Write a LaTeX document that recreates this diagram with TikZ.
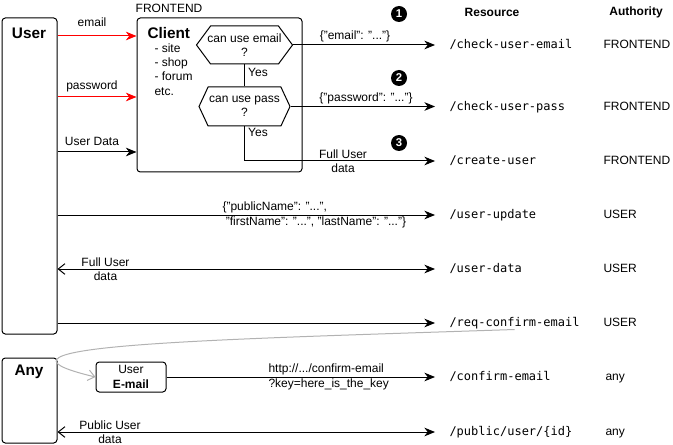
\documentclass[tikz,border=0pt]{standalone}
\usepackage{fontspec}
\setmainfont{Liberation Sans}
\setmonofont{DejaVu Sans Mono}
\usetikzlibrary{arrows.meta,shapes.symbols}

\tikzset{every picture/.style={line width=0.75pt}}
\tikzset{
  box/.style={draw, rounded corners=2.5pt, inner sep=0pt},
  hexa/.style={draw, signal, signal to=east and west, align=center, inner sep=0pt},
  flow/.style={-{Stealth[length=8pt,width=6.5pt,inset=2.5pt]}},
  toRes/.style={flow, shorten >=10.5pt},
  both/.style={{Straight Barb[length=5pt,width=8pt]}-{Stealth[length=8pt,width=6.5pt,inset=2.5pt]}, shorten >=10.5pt},
  res/.style={anchor=west, inner sep=0pt, text height=7pt, text depth=2pt, font=\ttfamily\fontsize{9}{10.8}\selectfont},
  auth/.style={anchor=west, inner sep=0pt, text height=7pt, text depth=2pt},
  head/.style={inner sep=0pt, font=\bfseries\fontsize{9}{10.8}\selectfont},
  title/.style={inner sep=0pt, font=\bfseries\fontsize{11.5}{13}\selectfont},
  num/.style={circle, fill=black, text=white, inner sep=0pt, minimum size=12pt, font=\bfseries\fontsize{8.5}{9}\selectfont},
  lbl/.style={inner sep=0pt, align=center}
}

\begin{document}
\begin{tikzpicture}[x=0.75pt,y=0.75pt,yscale=-1,xscale=1,font=\fontsize{9}{10.8}\selectfont]
\useasboundingbox (0,0) rectangle (673,445);

%Shape: Rectangle [User]
\node[box, minimum width=41.25pt, minimum height=237pt] (user) at (29.5,176) {};
\node[title] (userTitle) at (29,33) {User};
%Shape: Rectangle [Any]
\node[box, minimum width=41.25pt, minimum height=63.75pt] (any) at (29.5,400.5) {};
\node[title] (anyTitle) at (29,372) {Any};

%Shape: Rectangle [Client]
\node[box, minimum width=123.75pt, minimum height=115.5pt] (client) at (219.5,95) {};
\node[lbl] (frontend) at (169,8) {FRONTEND};
\node[title, anchor=west] (clientTitle) at (147,33) {Client};
\node[lbl, anchor=north west, align=left] (clientList) at (154,43) {- site\\- shop\\- forum\\etc.};

%Shape: Hexagon
\node[hexa, inner xsep=-4pt, minimum width=72pt, minimum height=28.5pt, signal pointer angle=107] (hexEmail) at (244.5,45) {can use email\\?};
\node[hexa, minimum width=68.25pt, minimum height=29.25pt, signal pointer angle=130] (hexPass) at (244.5,106.5) {can use pass\\?};

%Shape: Rectangle [E-mail]
\node[box, minimum width=52.5pt, minimum height=22.5pt, align=center] (mailbox) at (131,377) {User\\\textbf{E-mail}};

% Header
\node[head] (hRes) at (492,12) {Resource};
\node[head] (hAuth) at (636,12) {Authority};

% Resource column
\node[res] (rCheckEmail) at (449,45) {/check-user-email};
\node[res] (rCheckPass) at (449,107) {/check-user-pass};
\node[res] (rCreate) at (449,161) {/create-user};
\node[res] (rUpdate) at (449,215) {/user-update};
\node[res] (rData) at (449,269) {/user-data};
\node[res] (rReqConfirm) at (449,323) {/req-confirm-email};
\node[res] (rConfirm) at (449,377) {/confirm-email};
\node[res] (rPublic) at (449,432) {/public/user/\{id\}};

% Authority column
\node[auth] (aCheckEmail) at (603,45) {FRONTEND};
\node[auth] (aCheckPass) at (603,107) {FRONTEND};
\node[auth] (aCreate) at (603,161) {FRONTEND};
\node[auth] (aUpdate) at (603,215) {USER};
\node[auth] (aData) at (603,269) {USER};
\node[auth] (aReqConfirm) at (603,323) {USER};
\node[auth] (aConfirm) at (605,377) {any};
\node[auth] (aPublic) at (605,432) {any};

% Step numbers
\node[num] (n1) at (399,14) {1};
\node[num] (n2) at (399,78) {2};
\node[num] (n3) at (399,143) {3};

%Straight Lines [User -> Client]
\draw[flow, red] (user.east |- 0,36) -- (client.west |- 0,36);
\draw[flow, red] (user.east |- 0,97) -- (client.west |- 0,97);
\draw[flow] (user.east |- 0,152) -- (client.west |- 0,152);
\node[lbl] (lEmail) at (92,22) {email};
\node[lbl] (lPass) at (92,86) {password};
\node[lbl] (lUserData) at (92,141) {User Data};

%Straight Lines [Client checks]
\draw (hexEmail.south) -- (hexPass.north);
\draw[toRes] (hexEmail.east) -- (hexEmail.east -| rCheckEmail.west);
\draw[toRes] (hexPass.east) -- (hexPass.east -| rCheckPass.west);
\draw[toRes] (hexPass.south) |- (rCreate.west);
\node[lbl] (yes1) at (258,72) {Yes};
\node[lbl] (yes2) at (258,132) {Yes};
\node[lbl] (lJsonEmail) at (355,36) {\{"email": "..."\}};
\node[lbl] (lJsonPass) at (366,98) {\{"password": "..."\}};
\node[lbl] (lFull1) at (343,161.5) {Full User\\data};

%Straight Lines [User -> Resource]
\draw[toRes] (user.east |- rUpdate.west) -- (rUpdate.west);
\draw[both] (user.east |- rData.west) -- (rData.west);
\draw[toRes] (user.east |- rReqConfirm.west) -- (rReqConfirm.west);
\node[lbl, anchor=west, align=left] (lJsonUpdate) at (222,215) {\{"publicName": "...",\\\hspace{2.5pt}"firstName": "...", "lastName": "..."\}};
\node[lbl] (lFull2) at (105.5,269) {Full User\\data};

%Curve Lines [confirm mail]
\draw[gray!60, -{Straight Barb[length=5pt,width=8pt]}] (rReqConfirm.south) .. controls (200,340) and (-40,345) .. (mailbox.west);

%Straight Lines [Any -> Resource]
\draw[toRes] (mailbox.east) -- (mailbox.east -| rConfirm.west);
\draw[both] (any.east |- rPublic.west) -- (rPublic.west);
\node[lbl, anchor=west, align=left] (lLink) at (268,377) {http://.../confirm-email\\?key=here\_is\_the\_key};
\node[lbl] (lPublic) at (110,432) {Public User\\data};

\end{tikzpicture}
\end{document}
